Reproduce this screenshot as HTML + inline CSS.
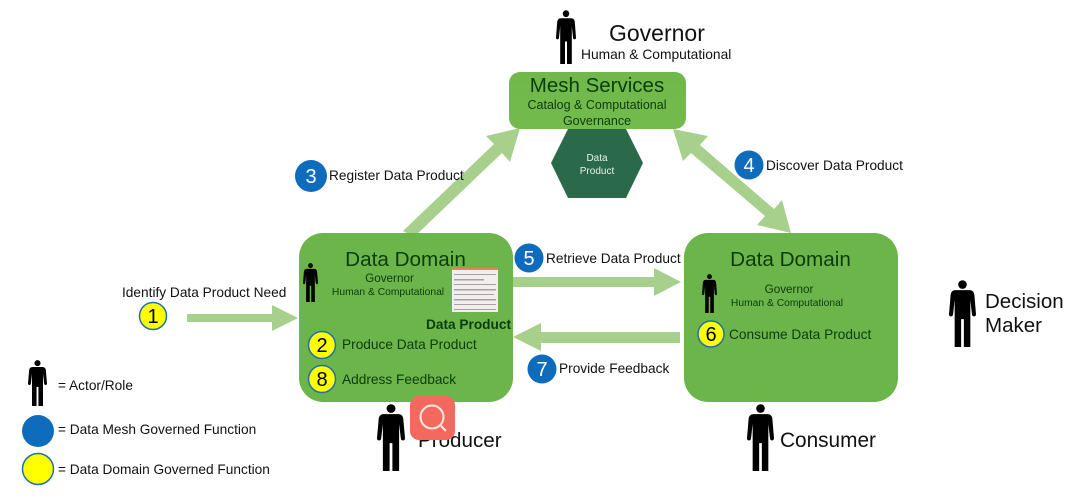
<!DOCTYPE html>
<html>
<head>
<meta charset="utf-8">
<style>
html,body{margin:0;padding:0;background:#fff;width:1078px;height:499px;overflow:hidden}
svg{display:block}
text{font-family:"Liberation Sans",sans-serif}
</style>
</head>
<body>
<svg width="1078" height="499" viewBox="0 0 1078 499" xmlns="http://www.w3.org/2000/svg">
<defs>
<symbol id="p" viewBox="0 0 100 250" preserveAspectRatio="none">
<circle cx="50" cy="17" r="16" fill="#000"/>
<path d="M24 38H76Q92 38 94 56L100 128Q100 136 92 136Q86 136 85 128L79 74V250H55V146H45V250H21V74L15 128Q14 136 8 136Q0 136 0 128L6 56Q8 38 24 38Z" fill="#000"/>
</symbol>
<linearGradient id="mg" x1="0" y1="0" x2="0" y2="1">
<stop offset="0" stop-color="#70b84a"/>
<stop offset="1" stop-color="#74bb4e"/>
</linearGradient>
</defs>
<rect width="1078" height="499" fill="#fff"/>

<!-- arrows -->
<g fill="#a8d08d">
<path d="M187 314H272V305L298 318L272 331V322H187Z"/>
<path d="M513 277H654V268L681 282L654 296V287H513Z"/>
<path d="M680 332H541V323L513 337L541 351V343H680Z"/>
<path d="M403 231L494 144L486 136L520 128L510 162L502 153L414 237Z"/>
<path d="M673 129L708 136L700 145L774 209L782 200L791 233L757 225L765 216L691 153L683 161Z"/>
</g>

<!-- mesh services -->
<rect x="509" y="72" width="177" height="57" rx="11" fill="url(#mg)"/>
<path d="M568 129H626L643 163L626 198H568L551 163Z" fill="#2a6a4a"/>
<text x="597" y="92" text-anchor="middle" font-size="20.5" fill="#0b3d0b">Mesh Services</text>
<text x="597" y="109" text-anchor="middle" font-size="12.5" fill="#0b3d0b">Catalog &amp; Computational</text>
<text x="597" y="125" text-anchor="middle" font-size="12.5" fill="#0b3d0b">Governance</text>
<text x="597" y="161" text-anchor="middle" font-size="10" fill="#e6f2ea">Data</text>
<text x="597" y="174" text-anchor="middle" font-size="10" fill="#e6f2ea">Product</text>

<!-- domains -->
<rect x="299" y="233" width="214" height="169" rx="24" fill="#6cb54a"/>
<rect x="684" y="233" width="214" height="169" rx="24" fill="#6cb54a"/>

<!-- data product thumbnail -->
<rect x="452" y="268" width="46" height="44" fill="#f2eeee"/>
<rect x="452" y="268" width="46" height="2" fill="#e2806a"/>
<g fill="#a9a0a6">
<rect x="454" y="274" width="42" height="1"/>
<rect x="454" y="279" width="30" height="1.5"/>
<rect x="454" y="284" width="42" height="1"/>
<rect x="454" y="289" width="42" height="1.5"/>
<rect x="454" y="294" width="40" height="1"/>
<rect x="454" y="299" width="42" height="1.5"/>
<rect x="454" y="304" width="42" height="1"/>
<rect x="454" y="309" width="42" height="1"/>
</g>

<!-- persons -->
<use href="#p" x="556" y="10" width="20" height="54"/>
<use href="#p" x="377" y="404" width="28" height="67"/>
<use href="#p" x="747" y="404" width="27" height="67"/>
<use href="#p" x="949" y="280" width="27" height="67"/>
<use href="#p" x="28" y="360" width="19" height="46"/>
<use href="#p" x="303" y="263" width="15" height="39"/>
<use href="#p" x="702" y="274" width="15" height="39"/>

<!-- circles -->
<g stroke="#1f6fb5" stroke-width="1.5" fill="#ffff00">
<circle cx="153" cy="316" r="13.5"/>
<circle cx="322" cy="345" r="13.5"/>
<circle cx="322" cy="379" r="13.5"/>
<circle cx="711" cy="334" r="13"/>
<circle cx="38" cy="469" r="15.5"/>
</g>
<g fill="#0f6cbd">
<circle cx="311" cy="176" r="16"/>
<circle cx="749" cy="165" r="14.5"/>
<circle cx="529" cy="258" r="14.5"/>
<circle cx="542" cy="369" r="14.5"/>
<circle cx="38" cy="431" r="16"/>
</g>
<g font-size="20" text-anchor="middle" fill="#000">
<text x="153" y="323">1</text>
<text x="322" y="352">2</text>
<text x="322" y="386">8</text>
<text x="711" y="341">6</text>
</g>
<g font-size="20" text-anchor="middle" fill="#fff">
<text x="311" y="183">3</text>
<text x="749" y="172">4</text>
<text x="529" y="265">5</text>
<text x="542" y="376">7</text>
</g>

<!-- domain text -->
<g fill="#0b3d0b" text-anchor="middle">
<text x="405.5" y="266" font-size="20.7">Data Domain</text>
<text x="790.5" y="266" font-size="20.7">Data Domain</text>
<text x="389.5" y="282" font-size="11.7">Governor</text>
<text x="388" y="295" font-size="10.3">Human &amp; Computational</text>
<text x="789" y="293" font-size="11.7">Governor</text>
<text x="787" y="306" font-size="10.3">Human &amp; Computational</text>
</g>
<text x="426" y="329" font-size="13.6" font-weight="bold" fill="#0b3d0b" textLength="85" lengthAdjust="spacingAndGlyphs">Data Product</text>
<g font-size="13.7" fill="#0b3d0b">
<text x="342" y="349">Produce Data Product</text>
<text x="342" y="384">Address Feedback</text>
<text x="729" y="339">Consume Data Product</text>
</g>

<!-- labels -->
<g fill="#111">
<text x="609" y="41" font-size="23">Governor</text>
<text x="581" y="59" font-size="13.8">Human &amp; Computational</text>
<text x="329" y="180" font-size="13.7">Register Data Product</text>
<text x="766" y="170" font-size="13.7">Discover Data Product</text>
<text x="546" y="263" font-size="13.7">Retrieve Data Product</text>
<text x="559" y="373" font-size="13.7">Provide Feedback</text>
<text x="122" y="297" font-size="13.7">Identify Data Product Need</text>
<text x="985" y="308" font-size="20.5">Decision</text>
<text x="985" y="332" font-size="20.5">Maker</text>
<text x="418" y="447" font-size="20.6">Producer</text>
<text x="780" y="447" font-size="20.8">Consumer</text>
<text x="58" y="390" font-size="13.7">= Actor/Role</text>
<text x="58" y="434" font-size="13.7">= Data Mesh Governed Function</text>
<text x="58" y="474" font-size="13.7">= Data Domain Governed Function</text>
</g>

<!-- magnifier badge -->
<rect x="410" y="396" width="45" height="44" rx="9" fill="#f4695d"/>
<circle cx="432" cy="417" r="11.5" fill="none" stroke="#fde8e2" stroke-width="2"/>
<path d="M441 426L446 431" stroke="#fde8e2" stroke-width="2"/>
</svg>
</body>
</html>
